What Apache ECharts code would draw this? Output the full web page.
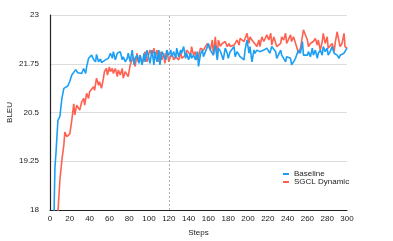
<!DOCTYPE html>
<html>
<head>
<meta charset="utf-8">
<script src="https://cdn.jsdelivr.net/npm/echarts@6/dist/echarts.min.js"></script>
<style>html,body{margin:0;padding:0;background:#fff;}#c{width:393px;height:241px;}</style>
</head>
<body>
<div id="c"></div>
<script>
const xTicks = [0,20,40,60,80,100,120,140,160,180,200,220,240,260,280,300];
const yTicks = [18,19.25,20.5,21.75,23];
const seriesNames = ['Baseline','SGCL Dynamic'];
const markerStep = 120;

const baselineSteps = [0,2,4,5,6,8,10,12,14,16,18,20,22,24,26,28,30,32,34,36,37,39,41,42,44,46,47,49,51,52,54,56,59,61,63,64,66,68,69,71,73,74,76,78,79,81,83,85,86,88,90,91,93,95,96,98,100,101,103,105,106,108,110,111,113,115,117,118,120,122,123,125,127,128,130,132,133,135,137,138,140,142,143,145,147,149,150,152,154,155,157,159,160,162,164,165,167,169,170,172,174,175,177,179,180,182,186,187,189,192,194,196,197,199,201,202,204,206,207,209,212,216,219,222,224,228,229,233,234,236,238,239,243,244,246,248,249,251,253,255,256,258,260,261,263,265,266,268,270,271,273,275,276,278,280,281,283,285,287,290,292,293,297,300];
const baselineValues = [14,16,17.85,19.1,19.45,20.3,20.4,20.86,21.12,21.15,21.18,21.3,21.46,21.5,21.6,21.52,21.55,21.5,21.63,21.5,21.67,21.89,21.85,21.97,21.86,21.8,21.99,21.8,21.87,21.78,21.82,21.85,21.89,22.02,21.89,22.06,21.85,22.02,21.97,22.06,21.85,21.93,21.8,21.89,22.02,21.8,22.1,21.72,21.89,21.97,21.76,21.97,21.72,22.02,21.8,22.1,22.06,21.76,22.1,21.72,22.06,21.8,22.1,21.72,22.06,22.02,21.85,22.1,21.97,22.1,21.93,22.06,21.89,22.15,21.93,22.1,22.02,22.19,21.89,22.02,21.85,22.02,21.89,21.97,21.85,22.06,21.68,22.0,22.1,21.93,22.06,22.19,22.27,22.1,22.1,21.97,22.23,21.85,22.15,22.08,22.1,21.85,22.15,22.02,21.89,22.06,22.19,21.93,22.06,21.93,21.97,21.85,22.1,22.36,22.02,22.19,21.8,22.1,22.02,22.1,22.06,22.1,22.15,22.02,22.19,22.06,21.89,22.1,21.97,21.89,21.8,21.93,21.89,21.72,21.8,21.89,21.97,22.1,22.02,22.32,21.97,22.02,21.97,22.06,21.93,22.15,21.97,22.1,21.89,22.02,22.1,21.97,22.19,22.06,22.15,21.97,22.06,22.19,22.02,21.97,21.89,21.97,22.02,22.15];

const sgclSteps = [0,4,8,10,12,14,15,17,19,20,22,24,25,27,29,30,32,34,35,37,39,40,42,44,45,47,49,50,52,54,55,57,58,60,61,63,64,66,68,69,71,73,74,76,78,79,81,83,84,86,88,89,91,93,95,96,98,100,101,103,105,106,108,110,111,113,115,116,118,120,123,125,127,130,132,133,137,138,140,142,143,145,147,148,150,152,154,155,157,159,160,162,164,165,167,169,170,172,174,175,177,179,181,182,186,189,191,192,196,199,201,202,204,206,209,211,212,214,216,219,221,223,224,226,229,233,234,236,238,239,243,244,246,249,251,253,256,258,260,261,263,266,268,270,271,273,275,276,278,280,281,283,285,287,288,290,292,293,295,297,298,300];
const sgclValues = [12,15,17.95,18.77,19.28,19.67,20.0,19.88,19.92,19.95,20.3,20.72,20.44,20.69,20.73,20.56,20.77,20.86,20.69,20.99,20.86,21.03,20.99,21.16,21.07,21.38,21.2,21.29,21.12,21.38,21.55,21.63,21.46,21.67,21.55,21.63,21.5,21.63,21.42,21.59,21.46,21.63,21.38,21.55,21.59,21.42,21.72,21.76,21.93,21.68,22.02,21.8,21.97,21.76,21.89,22.06,21.8,22.02,22.1,21.97,22.15,21.89,22.1,21.8,22.06,21.85,22.02,21.76,22.1,21.8,22.02,21.85,21.93,21.85,22.06,21.89,21.97,22.1,22.15,21.97,22.19,21.97,22.06,21.85,21.93,22.15,22.12,22.1,22.19,22.27,22.32,22.1,22.36,21.97,22.44,21.89,22.36,22.2,22.27,22.23,22.32,22.19,22.27,22.19,22.23,22.36,22.23,22.4,22.32,22.53,22.27,22.44,22.36,22.4,22.19,22.36,22.19,22.44,22.32,22.49,22.36,22.53,22.23,22.44,22.19,22.27,22.44,22.36,22.53,22.27,22.49,22.32,22.44,22.19,22.02,22.15,22.62,22.57,22.36,22.19,22.27,22.32,22.4,22.23,22.36,22.1,22.32,22.53,22.27,22.44,22.15,22.19,22.27,22.06,22.27,22.57,22.53,22.19,22.27,22.53,22.19,22.15];

const pairs = (xs, ys) => xs.map((x, i) => [x, ys[i]]);
const font = 'Liberation Sans, Arial, Helvetica, sans-serif';
const chart = echarts.init(document.getElementById('c'), null, {renderer: 'canvas'});
chart.setOption({
  animation: false,
  backgroundColor: '#fff',
  grid: {left: 50, right: 46, top: 15, bottom: 31, containLabel: false, outerBoundsMode: 'none'},
  legend: {
    orient: 'vertical', left: 278, top: 165, itemGap: 0,
    itemWidth: 6, itemHeight: 2, icon: 'rect',
    textStyle: {fontFamily: font, fontSize: 8, color: '#222', padding: [0,0,0,0]},
    data: seriesNames
  },
  xAxis: {
    type: 'value', min: xTicks[0], max: xTicks[xTicks.length-1], interval: 20,
    name: 'Steps', nameLocation: 'middle', nameGap: 19, nameMoveOverlap: false,
    nameTextStyle: {fontFamily: font, fontSize: 8, color: '#222'},
    axisLine: {show: true, lineStyle: {color: '#222', width: 1.2}},
    axisTick: {show: false},
    axisLabel: {fontFamily: font, fontSize: 8, color: '#222', margin: 5},
    splitLine: {show: false}
  },
  yAxis: {
    type: 'value', min: yTicks[0], max: yTicks[yTicks.length-1], interval: 1.25,
    name: 'BLEU', nameLocation: 'middle', nameGap: 36, nameRotate: 90, nameMoveOverlap: false,
    nameTextStyle: {fontFamily: font, fontSize: 8, color: '#222'},
    axisLine: {show: true, lineStyle: {color: '#222', width: 1.2}},
    axisTick: {show: false},
    axisLabel: {fontFamily: font, fontSize: 8, color: '#222', margin: 11},
    splitLine: {show: true, lineStyle: {color: '#dcdcdc', width: 1}}
  },
  series: [
    {
      name: seriesNames[0], type: 'line', data: pairs(baselineSteps, baselineValues),
      showSymbol: false, symbol: 'none', clip: true,
      itemStyle: {color: '#1a9ff5'},
      lineStyle: {color: '#1a9ff5', width: 1.6},
      markLine: {
        silent: true, symbol: 'none', label: {show: false},
        lineStyle: {color: '#999', type: [2, 2], width: 0.8},
        data: [{xAxis: markerStep}]
      },
      z: 3
    },
    {
      name: seriesNames[1], type: 'line', data: pairs(sgclSteps, sgclValues),
      showSymbol: false, symbol: 'none', clip: true,
      itemStyle: {color: '#ff6150'},
      lineStyle: {color: '#ff6150', width: 1.6},
      z: 2
    }
  ]
});
</script>
</body>
</html>
